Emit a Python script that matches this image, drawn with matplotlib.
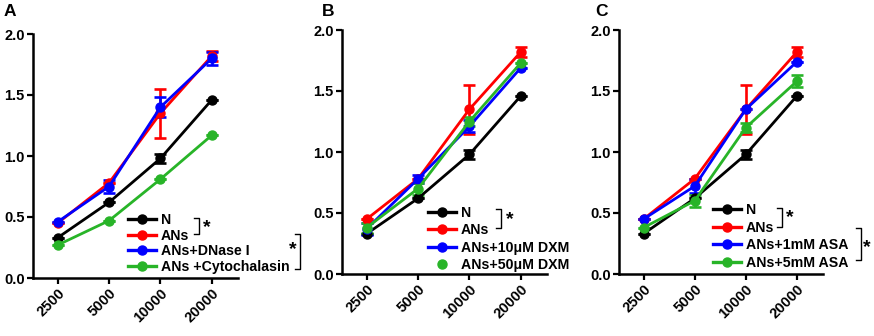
import matplotlib.pyplot as plt
from matplotlib.lines import Line2D

plt.rcParams['font.family'] = ['Liberation Sans', 'DejaVu Sans']
plt.rcParams['font.weight'] = 'bold'

# cell numbers on the x axis
cells = ['2500', '5000', '10000', '20000']

# shared series
n_vals = [0.33, 0.62, 0.98, 1.46]
n_err = [0.0, 0.0, 0.04, 0.0]
ans_vals = [0.45, 0.78, 1.35, 1.82]
ans_err = [0.0, 0.0, 0.20, 0.04]

# panel A
dnase_vals = [0.46, 0.75, 1.40, 1.80]
dnase_err = [0.0, 0.05, 0.08, 0.05]
cyto_vals = [0.27, 0.47, 0.81, 1.17]
cyto_err = [0.0, 0.0, 0.0, 0.0]

# panel B
dxm10_vals = [0.37, 0.78, 1.21, 1.69]
dxm10_err = [0.05, 0.03, 0.05, 0.0]
dxm50_vals = [0.38, 0.70, 1.25, 1.73]
dxm50_err = [0.04, 0.05, 0.04, 0.0]

# panel C
asa1_vals = [0.45, 0.72, 1.35, 1.74]
asa1_err = [0.0, 0.06, 0.0, 0.0]
asa5_vals = [0.38, 0.60, 1.20, 1.58]
asa5_err = [0.0, 0.05, 0.04, 0.05]

BLACK, RED, BLUE, GREEN = 'black', '#ff0000', '#0000ff', '#28b428'
FS = 10.5
LFS = 10.2

W, H = 874, 336
fig = plt.figure(figsize=(W / 100, H / 100), dpi=100)


def fx(px):
    return px / W


def fy(py):
    return 1 - py / H


def make_ax(left, right, top, bottom):
    return fig.add_axes([fx(left), fy(bottom), fx(right) - fx(left), fy(top) - fy(bottom)])


def series(ax, vals, err, color):
    x = range(len(cells))
    ax.errorbar(x, vals, yerr=err, color=color, lw=2.0, marker='o', ms=6.5,
                elinewidth=1.9, capsize=4, capthick=1.9, clip_on=False)


def style(ax):
    ax.set_xlim(-0.48, 3.51)
    ax.set_ylim(0, 2.0)
    ax.set_xticks(range(len(cells)))
    ax.set_xticklabels(cells, rotation=45, ha='right', rotation_mode='anchor',
                       fontsize=FS, fontweight='bold')
    ax.set_yticks([0, 0.5, 1.0, 1.5, 2.0])
    ax.set_yticklabels(['0.0', '0.5', '1.0', '1.5', '2.0'], fontsize=FS, fontweight='bold')
    for s in ['top', 'right']:
        ax.spines[s].set_visible(False)
    for s in ['left', 'bottom']:
        ax.spines[s].set_linewidth(1.8)
    ax.tick_params(width=1.6, length=4, pad=2)


def legend(ax, labels, colors, px, py, spacing, no_line=()):
    handles = []
    for i, c in enumerate(colors):
        handles.append(Line2D([], [], color=c, lw=2.4, marker='o', ms=6.5,
                              ls='none' if i in no_line else '-'))
    ax.legend(handles, labels, loc='upper left', bbox_to_anchor=(fx(px), fy(py)),
              bbox_transform=fig.transFigure, frameon=False, borderpad=0,
              borderaxespad=0, handlelength=2.0, handletextpad=0.3,
              labelspacing=spacing, prop={'size': LFS, 'weight': 'bold'})


def bracket(x, y0, y1, star_x, star_y, cap=5):
    fig.add_artist(Line2D([fx(x - cap), fx(x), fx(x), fx(x - cap)],
                          [fy(y0), fy(y0), fy(y1), fy(y1)], color='black', lw=1.0))
    fig.text(fx(star_x), fy(star_y), '*', fontsize=14, fontweight='bold',
             ha='center', va='center')


colors = [BLACK, RED, BLUE, GREEN]

# A
axA = make_ax(33, 238, 34, 278)
for v, e, c in zip([n_vals, ans_vals, dnase_vals, cyto_vals],
                   [n_err, ans_err, dnase_err, cyto_err], colors):
    series(axA, v, e, c)
style(axA)
legend(axA, ['N', 'ANs', 'ANs+DNase I', 'ANs +Cytochalasin'], colors, 128, 213, 0.12)
bracket(199, 218, 234, 207, 228)
bracket(300, 234, 269, 293, 250)

# B
axB = make_ax(342, 547, 30, 274)
for v, e, c in zip([n_vals, ans_vals, dxm10_vals, dxm50_vals],
                   [n_err, ans_err, dxm10_err, dxm50_err], colors):
    series(axB, v, e, c)
style(axB)
legend(axB, ['N', 'ANs', 'ANs+10μM DXM', 'ANs+50μM DXM'], colors, 428, 206, 0.23,
       no_line=(3,))
bracket(501, 209, 228, 510, 220)

# C
axC = make_ax(619, 823, 30, 274)
for v, e, c in zip([n_vals, ans_vals, asa1_vals, asa5_vals],
                   [n_err, ans_err, asa1_err, asa5_err], colors):
    series(axC, v, e, c)
style(axC)
legend(axC, ['N', 'ANs', 'ANs+1mM ASA', 'ANs+5mM ASA'], colors, 713, 203, 0.26)
bracket(782, 208, 227, 790, 218)
bracket(861, 228, 260, 867, 248)

for lab, px in [('A', 10), ('B', 328), ('C', 601)]:
    fig.text(fx(px), fy(11), lab, fontsize=12.5, fontweight='bold', ha='center', va='center')

fig.savefig('out.png', dpi=100)
